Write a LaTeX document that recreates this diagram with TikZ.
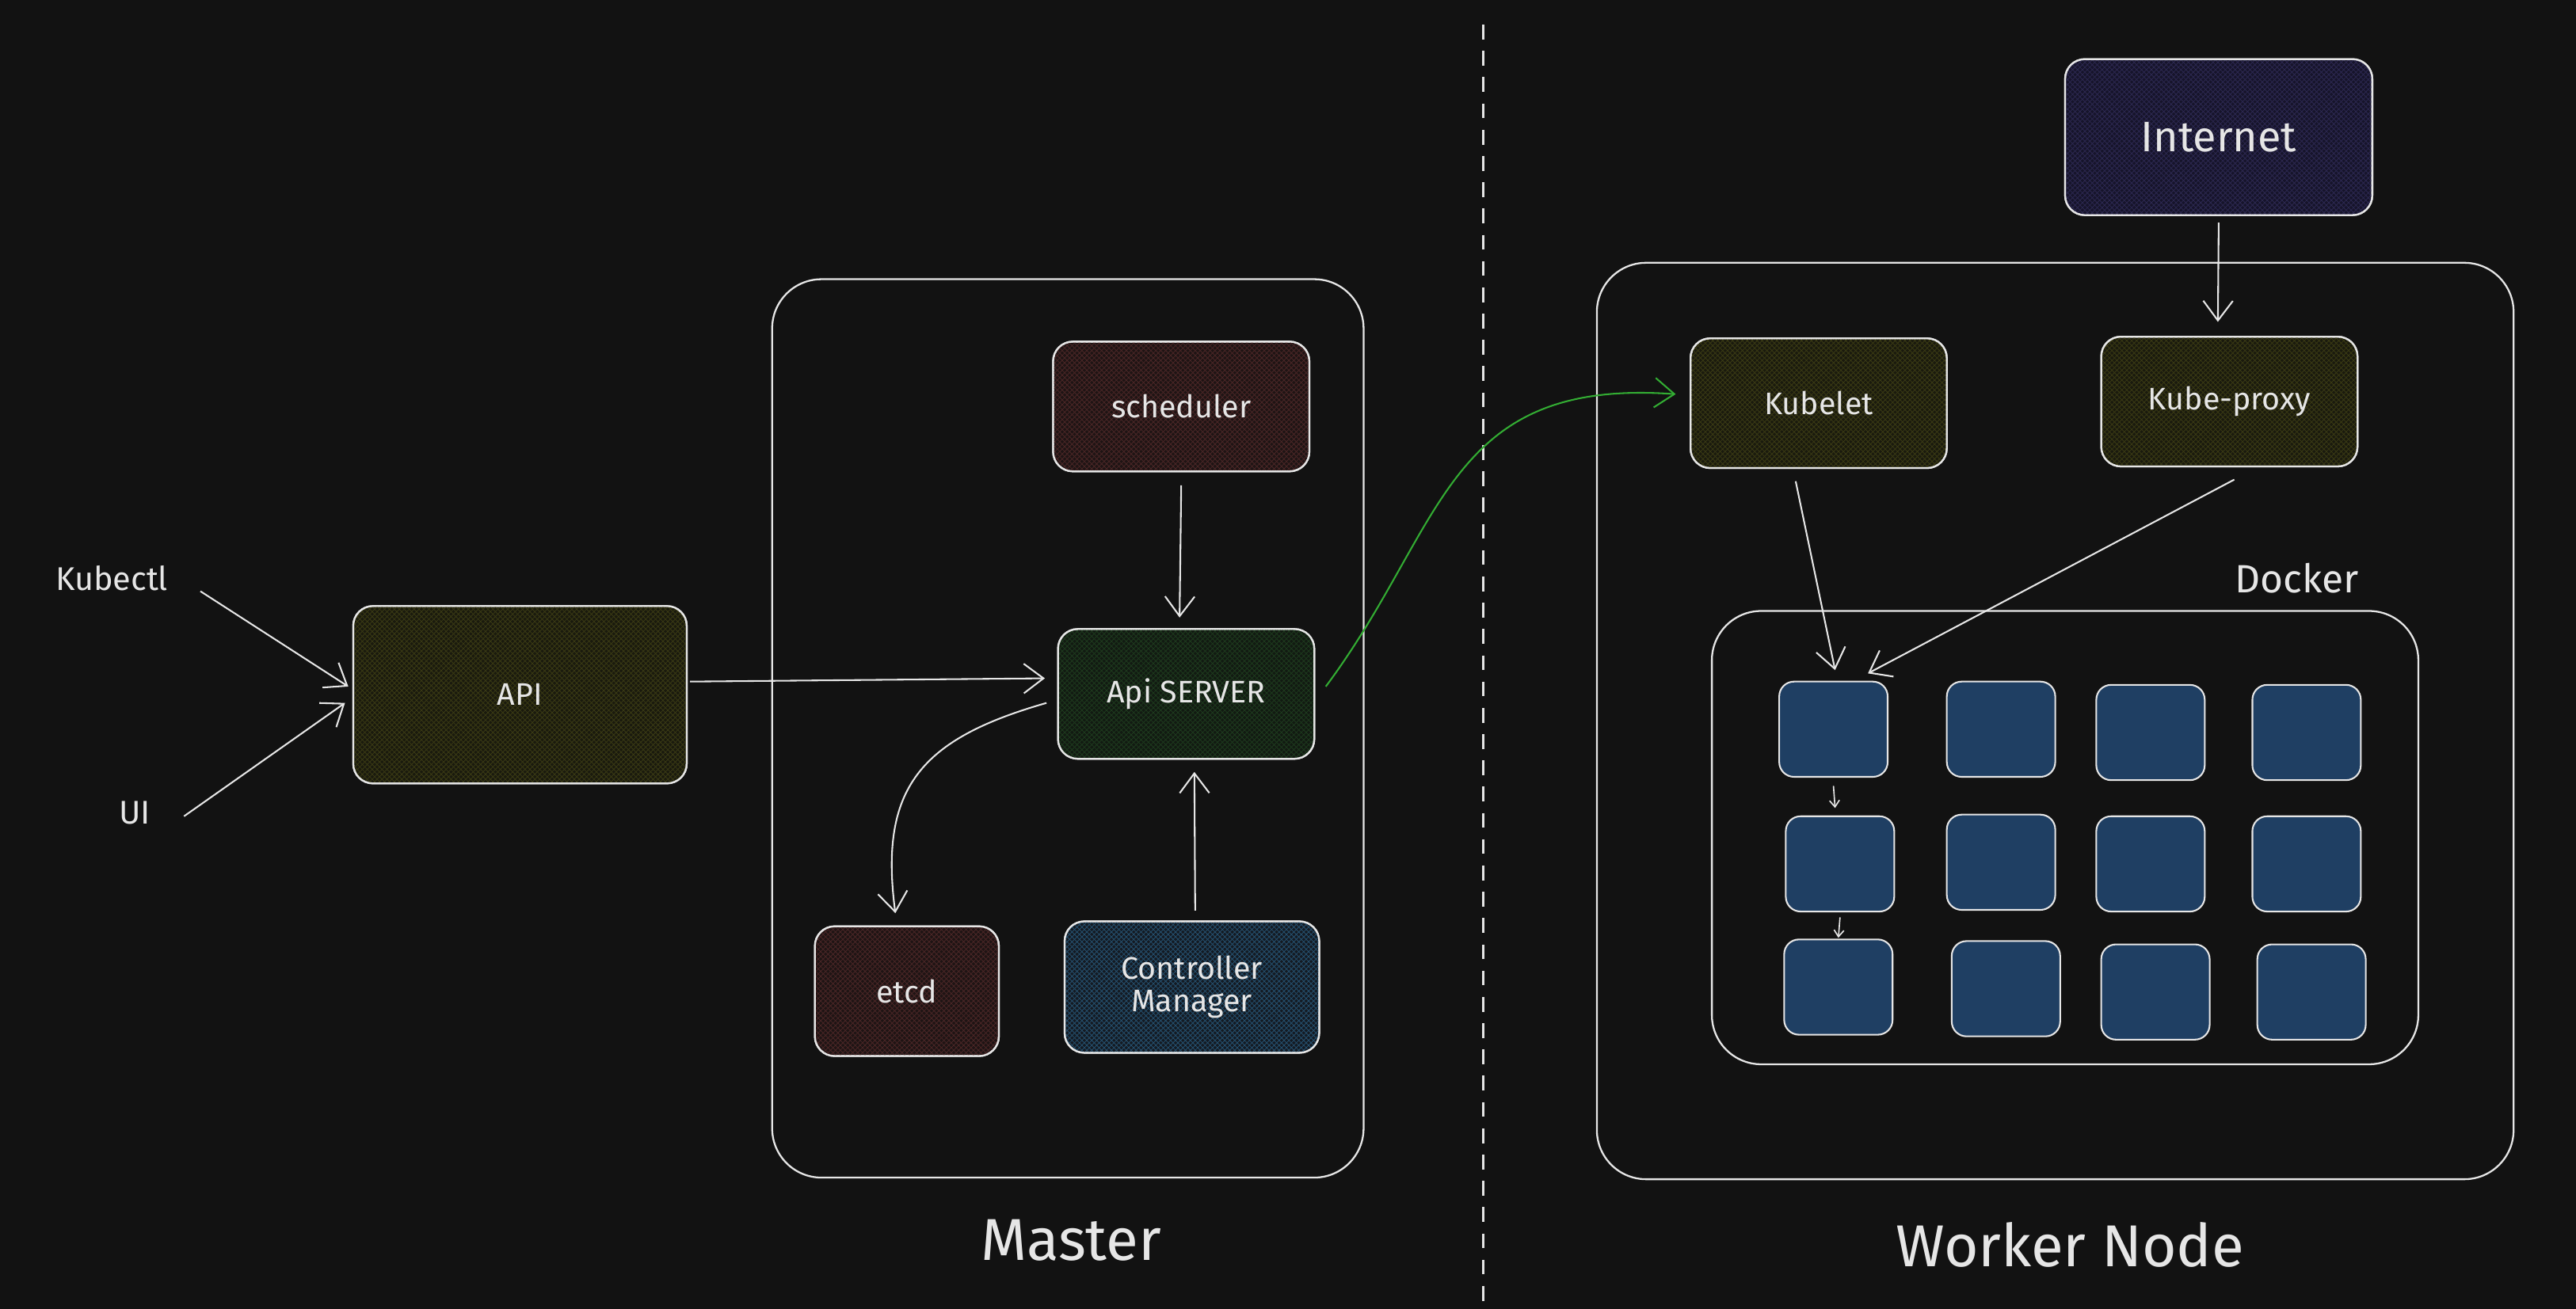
\documentclass[tikz,border=0pt]{standalone}
\usepackage{fontspec}
\setmainfont{Fira Sans}
\usetikzlibrary{arrows.meta,patterns}
\definecolor{bg}{HTML}{121212}
\definecolor{ln}{HTML}{E6E6E6}
\definecolor{cont}{HTML}{1F3F63}
\definecolor{olf}{HTML}{1A1A0E}\definecolor{olp}{HTML}{3A3A14}
\definecolor{rdf}{HTML}{1E1414}\definecolor{rdp}{HTML}{4A2626}
\definecolor{gnf}{HTML}{121A12}\definecolor{gnp}{HTML}{1E3A1E}
\definecolor{blf}{HTML}{141A22}\definecolor{blp}{HTML}{25506E}
\definecolor{vif}{HTML}{16142A}\definecolor{vip}{HTML}{2C2850}
\tikzset{
  x=1pt,y=-1pt,
  box/.style={draw=ln,line width=1.1pt,rounded corners=12pt,text=ln,align=center,font=\fontsize{19}{22}\selectfont},
  hat/.style 2 args={box,fill=#1,postaction={pattern=crosshatch,pattern color=#2},postaction={draw=ln,line width=1.1pt}},
  big/.style={draw=ln,line width=1.1pt,rounded corners=30pt},
  ct/.style={draw=ln,line width=1pt,fill=cont,rounded corners=9pt},
  arr/.style={draw=ln,line width=1pt,-{Straight Barb[length=12pt,width=18pt]}},
  lbl/.style={text=ln,font=\fontsize{20}{24}\selectfont},
}
\begin{document}
\begin{tikzpicture}
\fill[bg] (0,0) rectangle (1568,797);
\useasboundingbox (0,0) rectangle (1568,797);
\draw[ln,line width=1.5pt,dash pattern=on 9pt off 7pt] (903,15) -- (903,797);
\draw[big] (470,170) rectangle (830,717);
\draw[big] (972,160) rectangle (1530,718);
\draw[big] (1042,372) rectangle (1472,648);
\node[lbl,font=\fontsize{36}{40}\selectfont] (ml) at (652,755) {Master};
\node[lbl,font=\fontsize{36}{40}\selectfont] (wl) at (1260,758) {Worker Node};
\node[lbl,font=\fontsize{24}{28}\selectfont] (dl) at (1398,352) {Docker};
\node[hat={olf}{olp},minimum width=203pt,minimum height=108pt] (api) at (316.5,423) {API};
\node[hat={rdf}{rdp},minimum width=156pt,minimum height=79pt] (sch) at (719,247.5) {scheduler};
\node[hat={gnf}{gnp},minimum width=156pt,minimum height=79pt] (srv) at (722,422.5) {Api SERVER};
\node[hat={rdf}{rdp},minimum width=112pt,minimum height=79pt] (etcd) at (552,603.5) {etcd};
\node[hat={blf}{blp},minimum width=155pt,minimum height=80pt] (cm) at (725.5,601) {Controller\\[-2pt]Manager};
\node[hat={olf}{olp},minimum width=156pt,minimum height=79pt] (kl) at (1107,245.5) {Kubelet};
\node[hat={olf}{olp},minimum width=156pt,minimum height=79pt] (kp) at (1357,244.5) {Kube-proxy};
\node[hat={vif}{vip},minimum width=187pt,minimum height=95pt,font=\fontsize{26}{30}\selectfont] (inet) at (1350.5,83.5) {Internet};
\node[lbl] (kc) at (68,352) {Kubectl};
\node[lbl] (ui) at (82,495) {UI};
\foreach \c/\x/\y in {a1/1116/444,a2/1218/444,a3/1309/446,a4/1404/446,
  b1/1120/526,b2/1218/525,b3/1309/526,b4/1404/526,
  c1/1119/601,c2/1221/602,c3/1312/604,c4/1407/604}
  \node[ct,minimum width=66pt,minimum height=58pt] (\c) at (\x,\y) {};
\coordinate (kc1) at (122,360); \coordinate (ui1) at (112,497);
\coordinate (apie) at (420,415); \coordinate (srvw) at (636,413);
\draw[arr] (kc1) -- (212,418);
\draw[arr] (ui1) -- (210,428);
\draw[arr] (apie) -- (srvw);
\draw[arr] (sch.south) ++(0,8) -- (718,376);
\draw[arr] (cm.north) ++(2,-6) -- (727,470);
\draw[arr] (637,428) .. controls (560,450) and (535,480) .. (545,556);
\draw[draw=green!60!black!80!white,line width=1pt,-{Straight Barb[length=12pt,width=18pt]}] (807,418) .. controls (880,320) and (880,230) .. (1020,240);
\draw[arr] (inet.south) ++(0,4) -- (1350,196);
\draw[arr] (1093,293) -- (1117,408);
\draw[arr] (1360,292) -- (1137,410);
\draw[ln,line width=0.8pt,-{Straight Barb[length=4pt,width=6pt]}] (a1.south) ++(0,5) -- (1117,492);
\draw[ln,line width=0.8pt,-{Straight Barb[length=4pt,width=6pt]}] (b1.south) ++(0,3) -- (1119,571);
\end{tikzpicture}
\end{document}
